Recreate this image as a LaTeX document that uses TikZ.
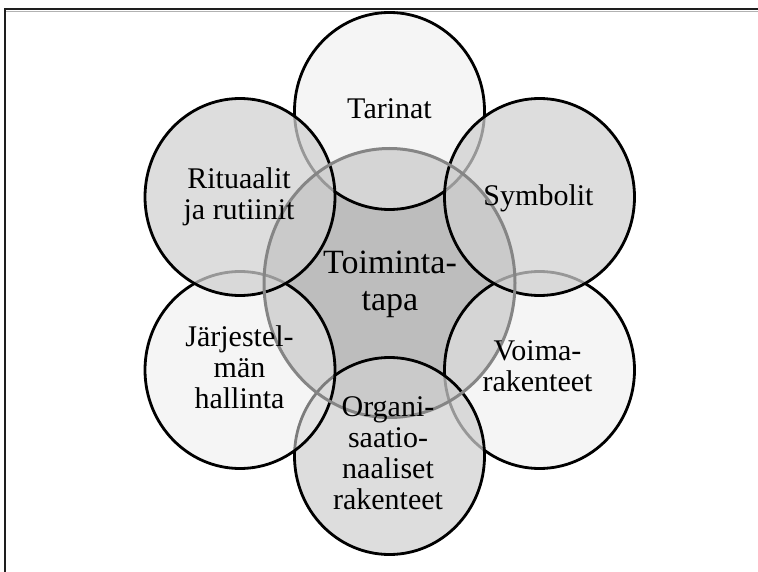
\documentclass[tikz,border=0pt]{standalone}
\usepackage{fontspec}
\setmainfont{Liberation Serif}
\usetikzlibrary{shapes.geometric}
\definecolor{lightfill}{HTML}{ECECEC}
\definecolor{midfill}{HTML}{D0D0D0}
\definecolor{corefill}{HTML}{BDBDBD}
\definecolor{coreline}{HTML}{858585}
\definecolor{framecol}{HTML}{1E1E1E}
\begin{document}
\begin{tikzpicture}[x=1pt,y=-1pt,
  ring/.style={ellipse, draw=black, line width=2.8pt, minimum width=190pt,
    minimum height=197pt, inner sep=0pt},
  lightring/.style={ring, fill=lightfill, fill opacity=0.53},
  midring/.style={ring, fill=midfill, fill opacity=0.73},
  lbl/.style={font=\fontsize{30}{30.7}\selectfont, align=center,
    inner sep=0pt, anchor=base},
  corelbl/.style={font=\fontsize{34}{36.5}\selectfont, align=center,
    inner sep=0pt, anchor=base},
]
\useasboundingbox (0,0) rectangle (758,572);

% frame
\draw[gray!60, line width=1pt] (6,11.5) -- (758,11.5);
\draw[framecol, line width=2.4pt] (5,572) -- (5,9) -- (758,9);

% core circle fill
\node[ellipse, fill=corefill, minimum width=251pt, minimum height=269pt,
  inner sep=0pt] (core) at (389.5,283) {};

% surrounding circles, stacked in this order
\node[lightring] (voima) at (539.5,370) {};
\node[midring]   (organi) at (389.5,456) {};
\node[lightring] (jarj) at (240,370) {};
\node[lightring] (tarinat) at (389.5,111) {};
\node[midring]   (rituaalit) at (240,197) {};
\node[midring]   (symbolit) at (539.5,197) {};

% core outline on top
\node[ellipse, draw=coreline, line width=3pt, minimum width=251pt,
  minimum height=269pt, inner sep=0pt] (coreline) at (core.center) {};

% labels (anchored at the baseline of their last line)
\node[lbl] (tTarinat) at (389.5,119) {Tarinat};
\node[lbl] (tRituaalit) at (239,219.5) {Rituaalit\\ja rutiinit};
\node[lbl] (tSymbolit) at (538.5,206) {Symbolit};
\node[corelbl] (tCore) at (390,310) {Toiminta-\\tapa};
\node[lbl] (tJarj) at (239.5,408) {Järjestel-\\män\\hallinta};
\node[lbl] (tVoima) at (537.5,391.5) {Voima-\\rakenteet};
\node[lbl] (tOrgani) at (388,509) {Organi-\\saatio-\\naaliset\\rakenteet};
\end{tikzpicture}
\end{document}
